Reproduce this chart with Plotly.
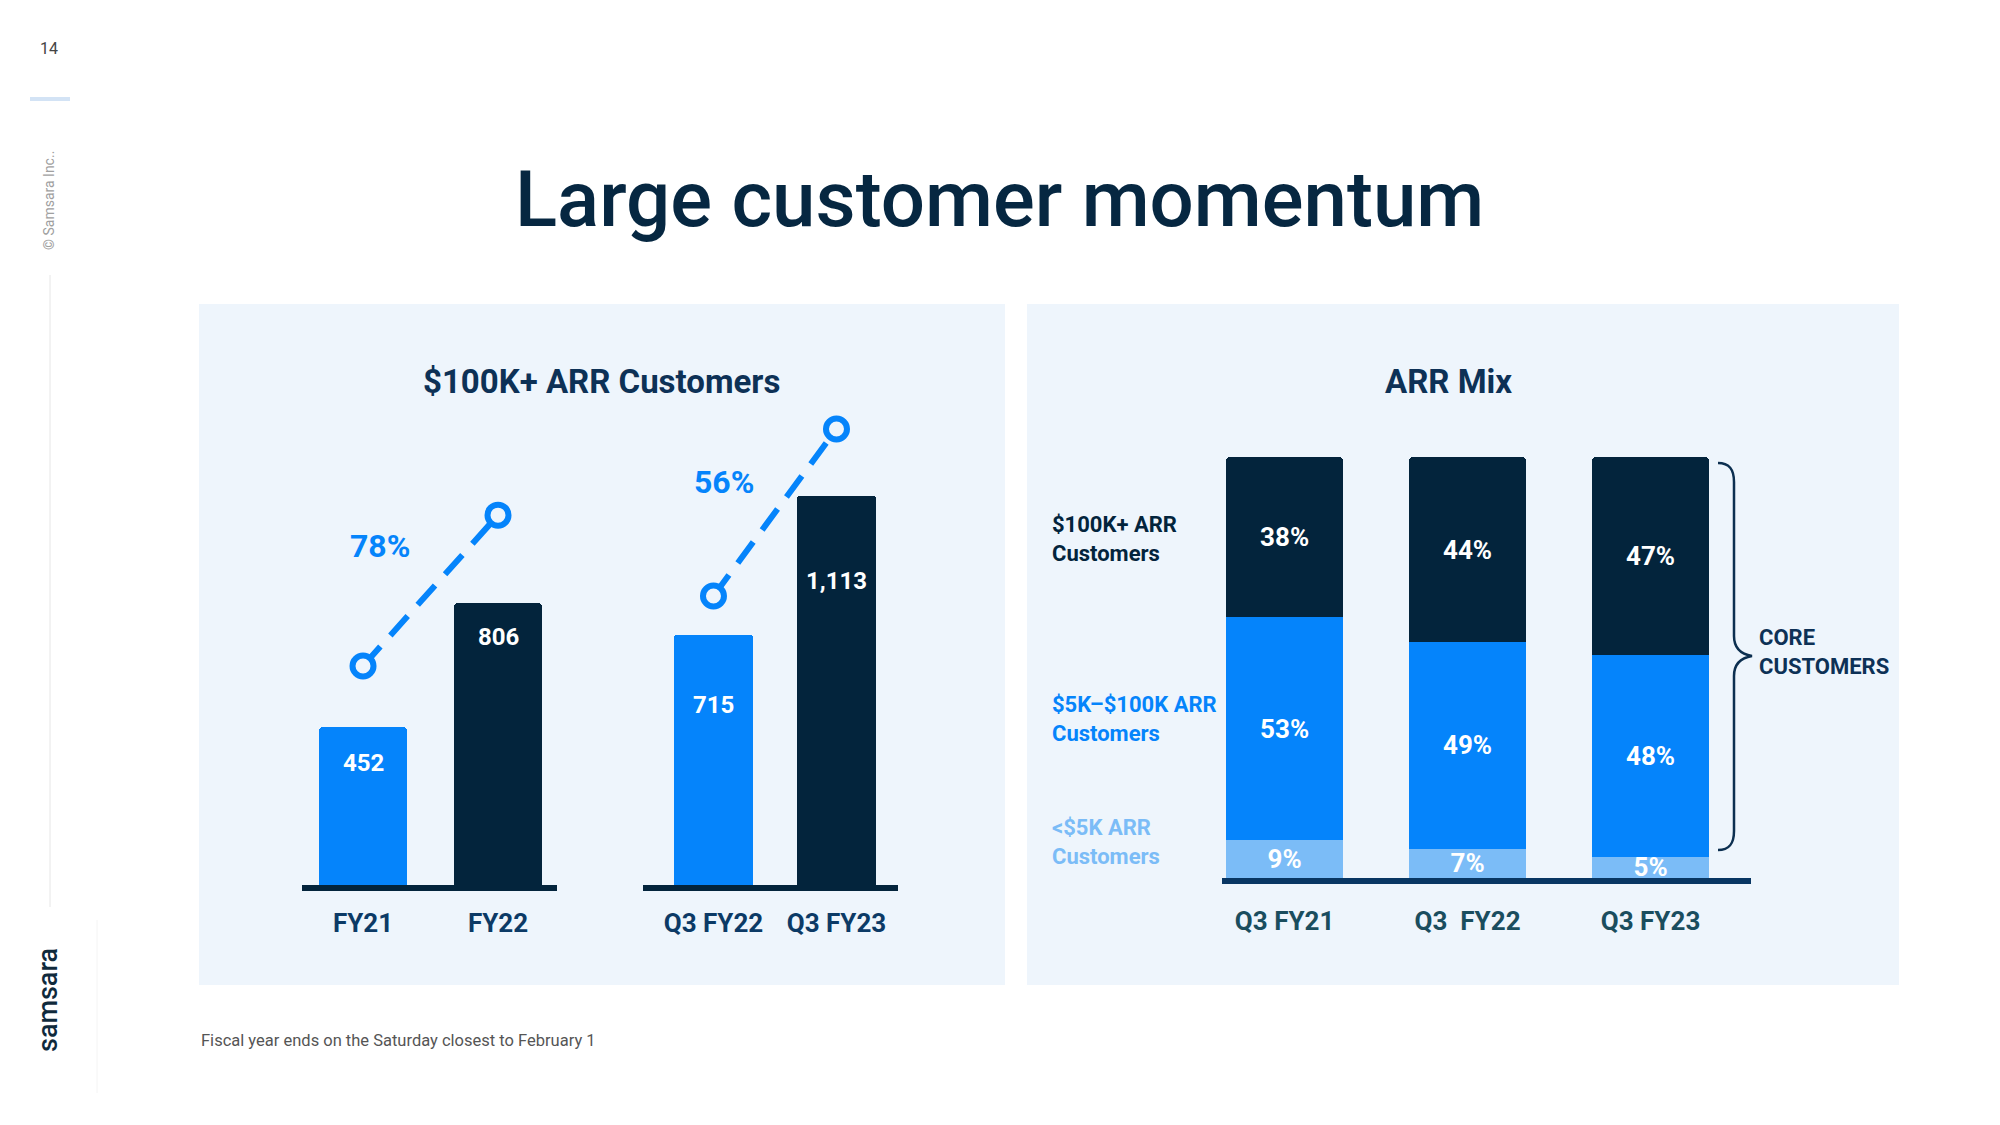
import plotly.graph_objects as go

W, H = 2000, 1125
OFF = 8  # page body margin offset of the rendered figure

# ---------------- data ----------------
annual_categories = ["FY21", "FY22"]
annual_customers = [452, 806]
annual_value_labels = ["452", "806"]
annual_growth_label = "78%"
annual_growth_marker = [626, 1057]

quarter_categories = ["Q3 FY22", "Q3 FY23"]
quarter_customers = [715, 1113]
quarter_value_labels = ["715", "1,113"]
quarter_growth_label = "56%"
quarter_growth_marker = [826, 1303]

mix_categories = ["Q3 FY21", "Q3\u00a0 FY22", "Q3 FY23"]
mix_small = [9, 7, 5]        # <$5K ARR customers
mix_mid = [53, 49, 48]       # $5K-$100K ARR customers
mix_large = [38, 44, 47]     # $100K+ ARR customers

# ---------------- style ----------------
NAVY = "#03243c"
BLUE = "#0584fb"
LIGHT = "#7bbcf7"
PANEL = "#eef5fc"
FONT = "Roboto"


def px(x):
    return (x - OFF) / W


def py(y):
    return 1 - (y - OFF) / H


fig = go.Figure()

# Left panel: annual and quarterly $100K+ customers
for xa, ya, cats, vals, growth in [
    ("x", "y", annual_categories, annual_customers, annual_growth_marker),
    ("x2", "y2", quarter_categories, quarter_customers, quarter_growth_marker),
]:
    pos = list(range(len(cats)))
    fig.add_trace(go.Bar(
        x=pos, y=vals, xaxis=xa, yaxis=ya, width=0.65,
        marker=dict(color=[BLUE, NAVY], line=dict(width=0)),
        hoverinfo="skip", showlegend=False,
    ))
    fig.add_trace(go.Scatter(
        x=pos, y=growth, xaxis=xa, yaxis=ya, mode="lines+markers",
        line=dict(color=BLUE, width=6, dash="26px,15px"),
        marker=dict(size=21, color=PANEL, line=dict(color=BLUE, width=6)),
        hoverinfo="skip", showlegend=False, cliponaxis=False,
    ))

# Right panel: ARR mix stacked bars
mix_pos = list(range(len(mix_categories)))
for vals, col in [(mix_small, LIGHT), (mix_mid, BLUE), (mix_large, NAVY)]:
    fig.add_trace(go.Bar(
        x=mix_pos, y=vals, xaxis="x3", yaxis="y3", width=0.64,
        marker=dict(color=col, line=dict(width=0)),
        text=[f"{v}%" for v in vals], textposition="inside",
        insidetextanchor="middle", constraintext="none",
        textfont=dict(family=FONT, size=26, color="white", weight=700),
        hoverinfo="skip", showlegend=False, cliponaxis=False,
    ))

tickfont_left = dict(family=FONT, size=26, color="#0c3a66", weight=700)
tickfont_right = dict(family=FONT, size=26, color="#1a4d5e", weight=700)

common_x = dict(showgrid=False, zeroline=False, ticks="", showline=True,
                linewidth=6, fixedrange=True)
common_y = dict(visible=False, showgrid=False, zeroline=False, fixedrange=True)

fig.update_layout(
    width=W, height=H,
    margin=dict(l=0, r=0, t=0, b=0),
    paper_bgcolor="white", plot_bgcolor="rgba(0,0,0,0)",
    barmode="stack", barcornerradius=4,
    uniformtext=dict(minsize=26, mode="show"),
    font=dict(family=FONT),
    xaxis=dict(domain=[px(302), px(557)], range=[-0.452, 1.437], anchor="y",
               tickvals=list(range(len(annual_categories))), ticktext=annual_categories,
               linecolor=NAVY, tickfont=tickfont_left, ticklabelstandoff=10, **common_x),
    yaxis=dict(domain=[py(885), py(400)], range=[0, 1386], anchor="x", **common_y),
    xaxis2=dict(domain=[px(643), px(898)], range=[-0.573, 1.5], anchor="y2",
                tickvals=list(range(len(quarter_categories))), ticktext=quarter_categories,
                linecolor=NAVY, tickfont=tickfont_left, ticklabelstandoff=10, **common_x),
    yaxis2=dict(domain=[py(885), py(400)], range=[0, 1386], anchor="x2", **common_y),
    xaxis3=dict(domain=[px(1222), px(1751)], range=[-0.342, 2.549], anchor="y3",
                tickvals=mix_pos, ticktext=mix_categories,
                linecolor="#083663", tickfont=tickfont_right, ticklabelstandoff=15, **common_x),
    yaxis3=dict(domain=[py(878), py(457)], range=[0, 100], anchor="x3", **common_y),
)

shapes = [
    # panels
    dict(type="rect", xref="paper", yref="paper", x0=px(199), x1=px(1005), y0=py(985), y1=py(304),
         fillcolor=PANEL, line=dict(width=0), layer="below"),
    dict(type="rect", xref="paper", yref="paper", x0=px(1027), x1=px(1899), y0=py(985), y1=py(304),
         fillcolor=PANEL, line=dict(width=0), layer="below"),
    # side decorations
    dict(type="line", xref="paper", yref="paper", x0=px(30), x1=px(70), y0=py(99), y1=py(99),
         line=dict(color="#d3e3f5", width=4)),
    dict(type="line", xref="paper", yref="paper", x0=px(50), x1=px(50), y0=py(275), y1=py(907),
         line=dict(color="#e6e6e6", width=1)),
    dict(type="line", xref="paper", yref="paper", x0=px(97), x1=px(97), y0=py(920), y1=py(1093),
         line=dict(color="#f4f4f4", width=1)),
]

# brace for "CORE CUSTOMERS"
bp = [("M", 1718, 463), ("C", 1730, 463), ("", 1734, 470), ("", 1734, 482),
      ("L", 1734, 636), ("C", 1734, 648), ("", 1740, 654), ("", 1752, 656),
      ("C", 1740, 658), ("", 1734, 664), ("", 1734, 676),
      ("L", 1734, 831), ("C", 1734, 843), ("", 1730, 850), ("", 1718, 850)]
path = " ".join(f"{c} {px(x):.5f},{py(y):.5f}" if c else f"{px(x):.5f},{py(y):.5f}" for c, x, y in bp)
shapes.append(dict(type="path", xref="paper", yref="paper", path=path,
                   line=dict(color="#0c2f50", width=2.5)))
fig.update_layout(shapes=shapes)


def ann(text, x, y, size, color, weight=700, xanchor="center", yanchor="middle", angle=0, **kw):
    return dict(text=text, x=x, y=y, showarrow=False, xanchor=xanchor, yanchor=yanchor,
                textangle=angle, font=dict(family=FONT, size=size, color=color, weight=weight), **kw)


annotations = [
    ann("Large customer momentum", px(999), py(200), 78, "#062741", weight=500, xref="paper", yref="paper"),
    ann("$100K+ ARR Customers", px(601), py(381), 33, "#0d3156", xref="paper", yref="paper"),
    ann("ARR Mix", px(1448), py(381), 33, "#0d3156", xref="paper", yref="paper"),
    ann(annual_growth_label, px(380), py(546), 32, BLUE, xref="paper", yref="paper"),
    ann(quarter_growth_label, px(724), py(482), 32, BLUE, xref="paper", yref="paper"),
    ann("$100K+ ARR<br>Customers", px(1050), py(539), 22, NAVY, xanchor="left", align="left",
        xref="paper", yref="paper"),
    ann("$5K\u2013$100K ARR<br>Customers", px(1050), py(719), 22, BLUE, xanchor="left", align="left",
        xref="paper", yref="paper"),
    ann("&lt;$5K ARR<br>Customers", px(1050), py(842), 22, LIGHT, xanchor="left", align="left",
        xref="paper", yref="paper"),
    ann("CORE<br>CUSTOMERS", px(1757), py(652), 22, "#0d3156", xanchor="left", align="left",
        xref="paper", yref="paper"),
    ann("Fiscal year ends on the Saturday closest to February 1", px(199), py(1040), 16.5, "#555555",
        weight=400, xanchor="left", xref="paper", yref="paper"),
    ann("14", px(49), py(48), 16, "#444444", weight=400, xref="paper", yref="paper"),
    ann("\u00a9 Samsara Inc..", px(49), py(201), 14, "#a0a0a0", weight=400, angle=-90,
        xref="paper", yref="paper"),
    ann("samsara", px(48), py(1000), 27, "#102a3c", weight=500, angle=-90, xref="paper", yref="paper"),
]

# value labels inside the $100K+ bars
for xa, ya, vals, labels, shifts in [
    ("x", "y", annual_customers, annual_value_labels, [-20, -18]),
    ("x2", "y2", quarter_customers, quarter_value_labels, [-54, -69]),
]:
    for i, (v, lab) in enumerate(zip(vals, labels)):
        annotations.append(ann(lab, i, v, 24, "white", yanchor="top", yshift=shifts[i],
                               xref=xa, yref=ya))

fig.update_layout(annotations=annotations)

fig.write_html("out.html")
